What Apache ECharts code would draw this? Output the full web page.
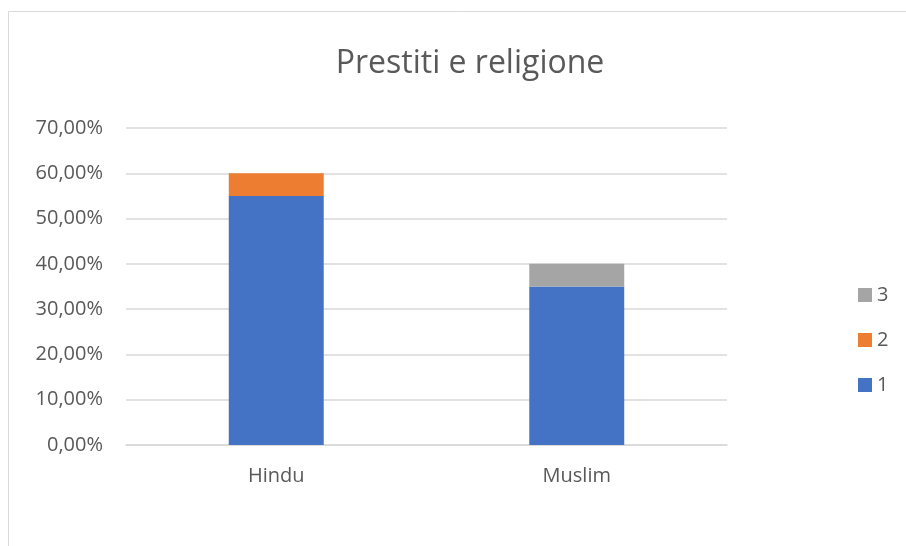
<!DOCTYPE html>
<html>
<head>
<meta charset="utf-8">
<script src="https://cdn.jsdelivr.net/npm/echarts@6/dist/echarts.min.js"></script>
<style>
  html, body { margin: 0; padding: 0; background: #fff; }
  #chart { width: 906px; height: 546px; }
</style>
</head>
<body>
<div id="chart"></div>
<script>
// Loan shares by religion, stacked by loan count
const categories = ['Hindu', 'Muslim'];
const series1 = [0.55, 0.35];
const series2 = [0.05, 0];
const series3 = [0, 0.05];
const yTicks = [0, 0.1, 0.2, 0.3, 0.4, 0.5, 0.6, 0.7];

const FONT = '"Open Sans", "Noto Sans", sans-serif';
const TEXT = '#595959';

const chart = echarts.init(document.getElementById('chart'), null, { renderer: 'canvas' });

function fmtPct(v) {
  return (v * 100).toFixed(2).replace('.', ',') + '%';
}

chart.setOption({
  animation: false,
  backgroundColor: '#fff',
  graphic: [{
    type: 'rect',
    shape: { x: 8.5, y: 11.5, width: 940, height: 600 },
    style: { fill: 'none', stroke: '#d9d9d9', lineWidth: 1 },
    silent: true,
    z: -1
  }],
  title: {
    text: 'Prestiti e religione',
    left: 470,
    textAlign: 'center',
    top: 48,
    padding: 0,
    textStyle: { fontFamily: FONT, fontSize: 32, fontWeight: 'normal', color: TEXT }
  },
  legend: {
    orient: 'vertical',
    left: 858,
    top: 285,
    padding: 0,
    itemWidth: 14,
    itemHeight: 14,
    itemGap: 25,
    data: ['3', '2', '1'],
    icon: 'rect',
    textStyle: { fontFamily: FONT, fontSize: 20, lineHeight: 20, color: TEXT, padding: [0, 0, 0, 0] }
  },
  grid: { left: 126, right: 179, top: 128, bottom: 101, containLabel: false },
  xAxis: {
    type: 'category',
    data: categories,
    axisLine: { show: true, lineStyle: { color: '#d9d9d9', width: 1.5 } },
    axisTick: { show: false },
    axisLabel: { fontFamily: FONT, fontSize: 20, color: TEXT, margin: 21 }
  },
  yAxis: {
    type: 'value',
    min: yTicks[0],
    max: yTicks[yTicks.length - 1],
    interval: 0.1,
    axisLine: { show: false },
    axisTick: { show: false },
    splitLine: { lineStyle: { color: '#d9d9d9', width: 1.5 } },
    axisLabel: { fontFamily: FONT, fontSize: 20, color: TEXT, margin: 23, formatter: fmtPct }
  },
  series: [
    { name: '1', type: 'bar', stack: 'tot', data: series1, barWidth: '31.6%', itemStyle: { color: '#4472c4' } },
    { name: '2', type: 'bar', stack: 'tot', data: series2, itemStyle: { color: '#ed7d31' } },
    { name: '3', type: 'bar', stack: 'tot', data: series3, itemStyle: { color: '#a5a5a5' } }
  ]
});
</script>
</body>
</html>
